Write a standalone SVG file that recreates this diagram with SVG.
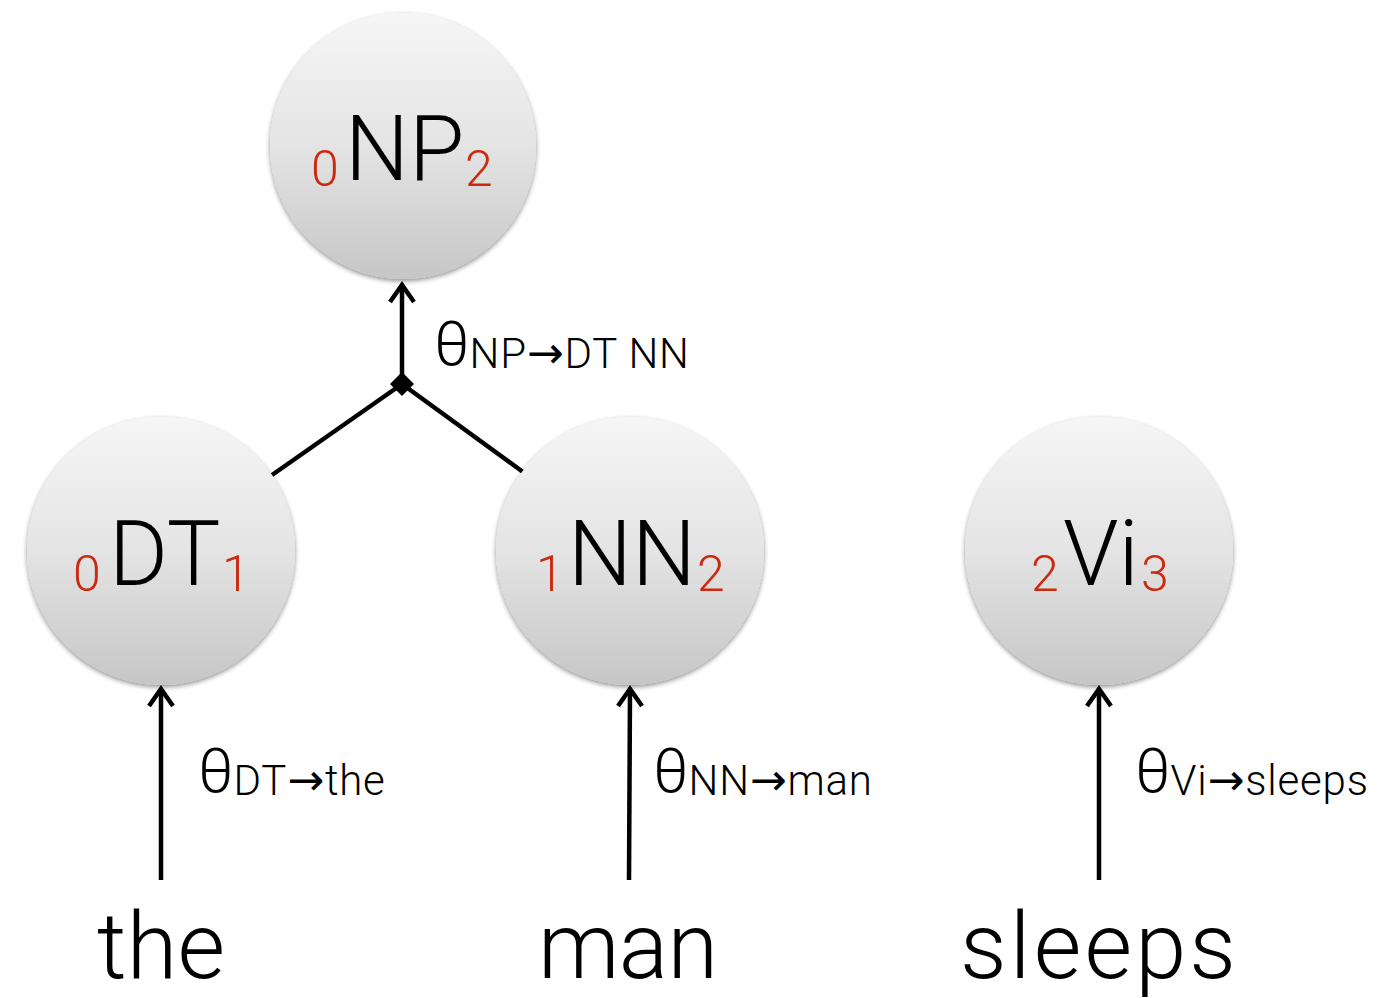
<svg xmlns="http://www.w3.org/2000/svg" width="1384" height="998" viewBox="0 0 1384 998">
  <style>
    text { font-family: Roboto, "Liberation Sans", sans-serif; font-weight: 300; }
    .main { font-size: 90px; fill: #000; }
    .idx { font-size: 50px; fill: #cc2a10; }
    .th { font-size: 62px; fill: #000; }
    .sub { font-size: 42px; fill: #000; letter-spacing: 0.8px; }
    .arr { font-family: "DejaVu Sans", sans-serif; font-weight: 400; font-size: 44px; }
    .word { font-size: 92px; fill: #000; }
    .edge { stroke: #000; stroke-width: 4.5; fill: none; }
    .node { fill: url(#ball); filter: url(#shadow); }
  </style>
  <defs>
    <linearGradient id="ball" x1="0" y1="0" x2="0" y2="1">
      <stop offset="0" stop-color="#f6f6f6"/>
      <stop offset="0.5" stop-color="#e4e4e4"/>
      <stop offset="1" stop-color="#c6c6c6"/>
    </linearGradient>
    <filter id="shadow" x="-20%" y="-20%" width="140%" height="140%">
      <feGaussianBlur in="SourceAlpha" stdDeviation="2.5"/>
      <feOffset dy="1.5" result="b"/>
      <feComponentTransfer><feFuncA type="linear" slope="0.45"/></feComponentTransfer>
      <feMerge><feMergeNode/><feMergeNode in="SourceGraphic"/></feMerge>
    </filter>
  </defs>

  <!-- edges: hyperedge into NP plus lexical emissions -->
  <g id="connectors">
    <line class="edge" x1="272" y1="475" x2="402" y2="384"/>
    <line class="edge" x1="523" y1="472" x2="402" y2="384"/>
    <line class="edge" x1="402" y1="380" x2="402" y2="286"/>
    <rect x="393.5" y="375.5" width="17" height="17" transform="rotate(45 402 384)" fill="#000"/>
    <line class="edge" x1="161" y1="880" x2="161" y2="690"/>
    <line class="edge" x1="629" y1="880" x2="630" y2="690"/>
    <line class="edge" x1="1099" y1="880" x2="1099" y2="690"/>
    <path class="edge" d="M390,302 L402,285 L414,302"/>
    <path class="edge" d="M149,706 L161,689 L173,706"/>
    <path class="edge" d="M618,706 L630,689 L642,706"/>
    <path class="edge" d="M1087,706 L1099,689 L1111,706"/>
  </g>

  <g id="NP">
    <circle class="node" cx="403" cy="146" r="133"/>
    <text class="idx" x="311" y="186">0</text>
    <text class="main" x="345" y="180">NP</text>
    <text class="idx" x="465" y="186">2</text>
  </g>
  <g id="DT">
    <circle class="node" cx="161" cy="551" r="134"/>
    <text class="idx" x="73" y="591">0</text>
    <text class="main" x="109" y="585">DT</text>
    <text class="idx" x="222" y="591">1</text>
  </g>
  <g id="NN">
    <circle class="node" cx="630" cy="551" r="134"/>
    <text class="idx" x="536" y="591">1</text>
    <text class="main" x="568" y="585">NN</text>
    <text class="idx" x="697" y="591">2</text>
  </g>
  <g id="Vi">
    <circle class="node" cx="1099" cy="551" r="134"/>
    <text class="idx" x="1031" y="591">2</text>
    <text class="main" x="1063" y="585">Vi</text>
    <text class="idx" x="1141" y="591">3</text>
  </g>

  <g id="labels">
    <text x="434" y="365"><tspan class="th">θ</tspan><tspan class="sub" dy="3">NP<tspan class="arr">→</tspan>DT NN</tspan></text>
    <text x="198" y="792"><tspan class="th">θ</tspan><tspan class="sub" dy="3">DT<tspan class="arr">→</tspan>the</tspan></text>
    <text x="653" y="792"><tspan class="th">θ</tspan><tspan class="sub" dy="3">NN<tspan class="arr">→</tspan>man</tspan></text>
    <text x="1135" y="792"><tspan class="th">θ</tspan><tspan class="sub" dy="3">Vi<tspan class="arr">→</tspan>sleeps</tspan></text>
  </g>

  <g id="words">
    <text class="word" x="97" y="978" textLength="128">the</text>
    <text class="word" x="538" y="978" textLength="180">man</text>
    <text class="word" x="960" y="978" textLength="276">sleeps</text>
  </g>
</svg>
